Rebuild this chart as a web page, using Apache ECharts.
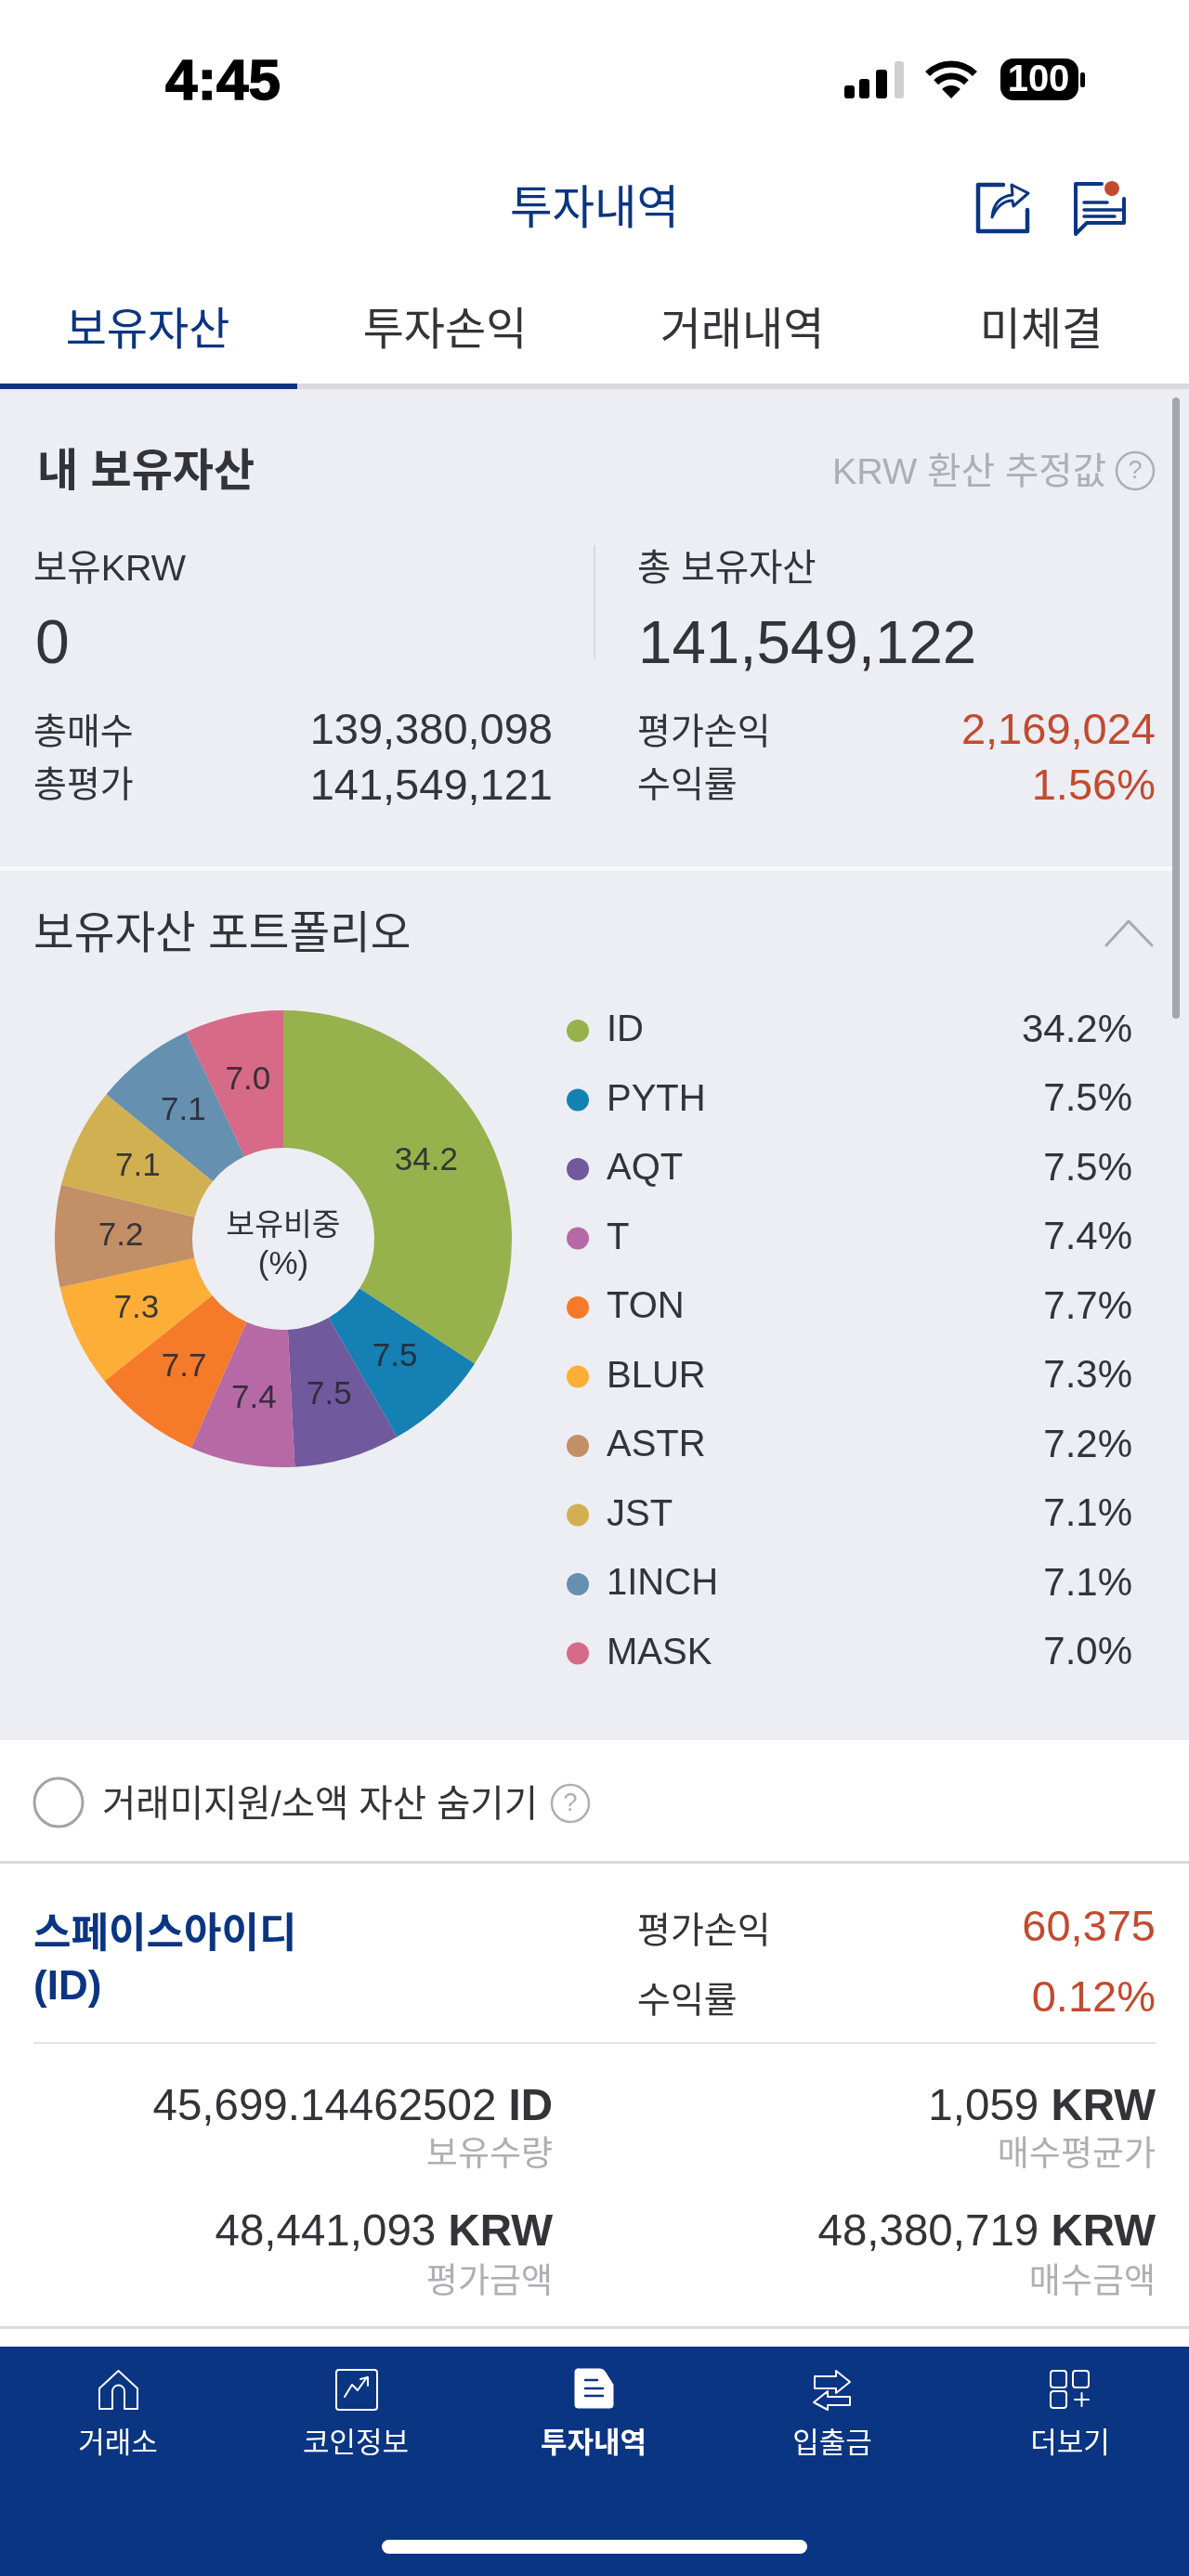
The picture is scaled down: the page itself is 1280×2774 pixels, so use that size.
<!DOCTYPE html>
<html>
<head>
<meta charset="utf-8">
<title>투자내역</title>
<style>
  html, body { margin: 0; padding: 0; background: #fff; }
  #main { width: 1280px; height: 2774px; }
</style>
</head>
<body>
<div id="main"></div>
<script src="https://cdn.jsdelivr.net/npm/echarts@6/dist/echarts.min.js"></script>
<script>
// 차트 데이터
const coins = ['ID', 'PYTH', 'AQT', 'T', 'TON', 'BLUR', 'ASTR', 'JST', '1INCH', 'MASK']
const shares = [34.2, 7.5, 7.5, 7.4, 7.7, 7.3, 7.2, 7.1, 7.1, 7.0]
const sliceColors = ['#97b14d', '#1480b3', '#70599c', '#b669a5', '#f57a29', '#fdae37', '#c28f67', '#d1b052', '#6590b0', '#d66a87']

// 화면 문구
const tabs = ['보유자산', '투자손익', '거래내역', '미체결']
const navItems = ['거래소', '코인정보', '투자내역', '입출금', '더보기']
const summaryLeft = [['총매수', '139,380,098'], ['총평가', '141,549,121']]
const summaryRight = [['평가손익', '2,169,024'], ['수익률', '1.56%']]
const holdingCells = [
  ['45,699.14462502', 'ID', '보유수량'],
  ['1,059', 'KRW', '매수평균가'],
  ['48,441,093', 'KRW', '평가금액'],
  ['48,380,719', 'KRW', '매수금액']
]

const FONT = '"Liberation Sans", "Noto Sans CJK KR", sans-serif'
const NAVY = '#0a3582'
const DARK = '#333338'
const RED = '#c34a2f'
const GRAY = '#aeaeb3'
const PANEL = '#eceef4'
const LINE = '#dadadc'

let pathCount = 0

function txt(x, y, text, size, fill, opt) {
  opt = opt || {}
  return {
    type: 'text',
    silent: true,
    style: {
      x: x,
      y: y,
      text: text,
      fill: fill || DARK,
      fontSize: size,
      fontFamily: FONT,
      fontWeight: opt.bold ? 'bold' : 'normal',
      align: opt.align || 'left',
      verticalAlign: 'middle',
      stroke: opt.heavy ? fill : undefined,
      lineWidth: opt.heavy || 0,
      rich: opt.rich
    }
  }
}

function box(x, y, w, h, fill, r) {
  return { type: 'rect', silent: true, shape: { x: x, y: y, width: w, height: h, r: r || 0 }, style: { fill: fill } }
}

// graphic 에는 path 타입이 없어서 아이콘마다 shape 등록
function outline(pathData, stroke, width, fill) {
  const name = 'iconPath' + (pathCount++)
  echarts.graphic.registerShape(name, echarts.graphic.extendPath(pathData, {}))
  return {
    type: name,
    silent: true,
    style: { stroke: stroke, lineWidth: width, fill: fill || 'none', lineJoin: 'round', lineCap: 'round' }
  }
}

function dot(cx, cy, r, fill, stroke, width) {
  return {
    type: 'circle',
    silent: true,
    shape: { cx: cx, cy: cy, r: r },
    style: { fill: fill || 'none', stroke: stroke, lineWidth: width || 0 }
  }
}

function helpIcon(cx, cy, r) {
  return [
    dot(cx, cy, r, 'none', GRAY, 2.5),
    txt(cx, cy + 1, '?', r * 1.35, GRAY, { align: 'center' })
  ]
}

function statusBar() {
  const wifi = [36, 23].map(r => ({
    type: 'arc',
    silent: true,
    shape: { cx: 1024, cy: 105, r: r, startAngle: -Math.PI * 0.75, endAngle: -Math.PI * 0.25 },
    style: { stroke: '#000', lineWidth: 7, fill: 'none' }
  }))
  return [
    txt(240, 90, '4:45', 62, '#000', { bold: true, align: 'center', heavy: 1.5 }),
    box(909, 92, 11, 14, '#000', 3),
    box(925, 85, 11, 21, '#000', 3),
    box(943, 75, 12, 31, '#000', 3),
    box(963, 66, 10, 40, '#cfcfcf', 3),
    ...wifi,
    {
      type: 'sector',
      silent: true,
      shape: { cx: 1024, cy: 106, r0: 0, r: 14, startAngle: -Math.PI * 0.75, endAngle: -Math.PI * 0.25 },
      style: { fill: '#000' }
    },
    box(1077, 63, 84, 45, '#000', 14),
    box(1163, 78, 5, 16, '#000', 2),
    txt(1118, 87, '100', 40, '#fff', { bold: true, align: 'center' })
  ]
}

function header() {
  const items = [
    txt(640, 227, '투자내역', 49.5, NAVY, { align: 'center' }),
    // 공유 아이콘
    outline('M1080 199 H1053 V249 H1106 V226', NAVY, 4.5),
    outline('M1068 234 Q1070 212 1090 210 L1089 199 L1107 208 L1091 222 L1090 216 Q1076 216 1068 234 Z', NAVY, 3),
    // 알림 아이콘
    outline('M1186 198 H1158 V252 L1170 240 H1210 V214', NAVY, 4),
    outline('M1167 218 H1192 M1167 226 H1207 M1167 233 H1200', NAVY, 3.5),
    dot(1197, 203, 8, RED)
  ]
  const tabX = [159, 479, 799, 1121]
  tabs.forEach((t, i) => {
    items.push(txt(tabX[i], 358, t, 48, i === 0 ? NAVY : DARK, { align: 'center' }))
  })
  items.push(box(0, 413, 1280, 6, LINE), box(0, 413, 320, 6, NAVY))
  return items
}

function summary() {
  const items = [
    box(0, 419, 1280, 1455, PANEL),
    box(0, 933, 1262, 5, '#f8f9fb'),
    box(1262, 428, 8, 669, '#a6a7ad', 4),
    txt(40, 510, '내 보유자산', 48, DARK, { bold: true }),
    txt(1191, 510, 'KRW 환산 추정값', 39.5, GRAY, { align: 'right' }),
    ...helpIcon(1222, 507, 20),
    txt(36, 614, '보유KRW', 39.5),
    txt(38, 696, '0', 66),
    box(639, 587, 2, 123, '#d8d9de'),
    txt(686, 614, '총 보유자산', 39.5),
    txt(687, 696, '141,549,122', 65.5)
  ]
  const labelY = [790, 847]
  const valueY = [788, 848]
  summaryLeft.forEach((row, i) => {
    items.push(txt(36, labelY[i], row[0], 39), txt(595, valueY[i], row[1], 47, DARK, { align: 'right' }))
  })
  summaryRight.forEach((row, i) => {
    items.push(txt(686, labelY[i], row[0], 39), txt(1244, valueY[i], row[1], 47, RED, { align: 'right' }))
  })
  items.push(
    txt(36, 1008, '보유자산 포트폴리오', 47.5),
    outline('M1191 1018 L1215 992 L1240 1018', '#a9aaaf', 3),
    txt(305, 1321, '보유비중', 33.5, DARK, { align: 'center' }),
    txt(305, 1362, '(%)', 35, DARK, { align: 'center' })
  )
  return items
}

function holding() {
  const items = [
    box(0, 1874, 1280, 653, '#fff'),
    dot(63, 1941, 26, '#fff', '#a3a3a3', 3),
    txt(110, 1945, '거래미지원/소액 자산 숨기기', 39.5),
    ...helpIcon(614, 1942, 20),
    box(0, 2004, 1280, 3, LINE),
    txt(36, 2085, '스페이스아이디', 44, NAVY, { bold: true }),
    txt(36, 2141, '(ID)', 44, NAVY, { bold: true }),
    txt(686, 2081, '평가손익', 39),
    txt(1244, 2077, '60,375', 47, RED, { align: 'right' }),
    txt(686, 2156, '수익률', 39),
    txt(1244, 2153, '0.12%', 47, RED, { align: 'right' }),
    box(36, 2199, 1208, 2, '#e1e2e4'),
    box(0, 2505, 1280, 3, LINE)
  ]
  const cellX = [595, 1244, 595, 1244]
  const valueY = [2270, 2270, 2405, 2405]
  const labelY = [2322, 2322, 2459, 2459]
  holdingCells.forEach((c, i) => {
    items.push(
      txt(cellX[i], valueY[i], '{a|' + c[0] + '} {b|' + c[1] + '}', 47.5, DARK, {
        align: 'right',
        rich: {
          a: { fontSize: 47.5, fontFamily: FONT, fill: DARK },
          b: { fontSize: 47.5, fontFamily: FONT, fontWeight: 'bold', fill: DARK }
        }
      }),
      txt(cellX[i], labelY[i], c[2], 37, GRAY, { align: 'right' })
    )
  })
  return items
}

function bottomNav() {
  const items = [
    box(0, 2527, 1280, 247, NAVY),
    box(411, 2735, 458, 15, '#fff', 7.5),
    // 거래소
    outline('M107 2572 L127.5 2553 L148 2572 V2594 H134 V2575 A6.5 6.5 0 0 0 121 2575 V2594 H107 Z', '#fff', 2),
    // 코인정보
    { type: 'rect', silent: true, shape: { x: 362, y: 2552, width: 44, height: 43, r: 3 }, style: { fill: 'none', stroke: '#fff', lineWidth: 2 } },
    outline('M371 2581 L379 2568 L385 2574 L395 2560 M388 2562 L396 2560 L396 2569', '#fff', 2),
    // 투자내역
    outline('M622 2551 H646 Q650 2551 652 2555 L660 2568 V2590 Q660 2593 657 2593 H622 Q619 2593 619 2590 V2554 Q619 2551 622 2551 Z', '#fff', 1, '#fff'),
    outline('M630 2563 H643 M630 2572 H649 M630 2580 H649', NAVY, 2.5),
    // 입출금
    outline('M877 2559 H900 V2553 L915 2565 L900 2577 V2572 H877 Z', '#fff', 2),
    outline('M915 2581 H891 V2575 L876 2587 L891 2595 V2590 H915 Z', '#fff', 2)
  ]
  // 더보기
  ;[[1131, 2553], [1155, 2553], [1131, 2575]].forEach(p => {
    items.push({ type: 'rect', silent: true, shape: { x: p[0], y: p[1], width: 17, height: 18, r: 3 }, style: { fill: 'none', stroke: '#fff', lineWidth: 2 } })
  })
  items.push(outline('M1157 2584 H1172 M1164.5 2577 V2591', '#fff', 2))

  const navX = [127, 383, 639, 896, 1152]
  navItems.forEach((t, i) => {
    items.push(txt(navX[i], 2632, t, 31, '#fff', { align: 'center', bold: i === 2 }))
  })
  return items
}

const chart = echarts.init(document.getElementById('main'), null, { renderer: 'canvas', devicePixelRatio: 1 })

// 패널을 먼저 그리고 파이/범례는 그 위에 얹는다
const layered = [...statusBar(), ...header(), ...summary(), ...holding(), ...bottomNav()]
layered.forEach(el => { el.z = -1 })

chart.setOption({
  animation: false,
  backgroundColor: '#fff',
  color: sliceColors,
  graphic: { elements: layered },
  legend: {
    orient: 'vertical',
    left: 610,
    top: 1088,
    icon: 'circle',
    itemWidth: 24,
    itemHeight: 24,
    itemGap: 30.5,
    padding: 0,
    selectedMode: false,
    data: coins,
    formatter: name => '{n|' + name + '}{v|' + shares[coins.indexOf(name)].toFixed(1) + '%}',
    textStyle: {
      rich: {
        n: { fontFamily: FONT, fontSize: 40, color: DARK, width: 400, height: 44, lineHeight: 44, padding: [0, 0, 0, 14] },
        v: { fontFamily: FONT, fontSize: 42, color: DARK, width: 166, height: 44, lineHeight: 44, align: 'right' }
      }
    }
  },
  series: [{
    type: 'pie',
    center: [305, 1334],
    radius: [98, 246],
    startAngle: 90,
    clockwise: true,
    avoidLabelOverlap: false,
    silent: true,
    data: coins.map((name, i) => ({ name: name, value: shares[i] })),
    label: {
      position: 'inside',
      formatter: p => p.value.toFixed(1),
      fontFamily: FONT,
      fontSize: 35,
      color: 'rgba(38,38,48,0.88)',
      textBorderWidth: 0
    },
    labelLine: { show: false },
    itemStyle: { borderWidth: 0 }
  }]
})
</script>
</body>
</html>
